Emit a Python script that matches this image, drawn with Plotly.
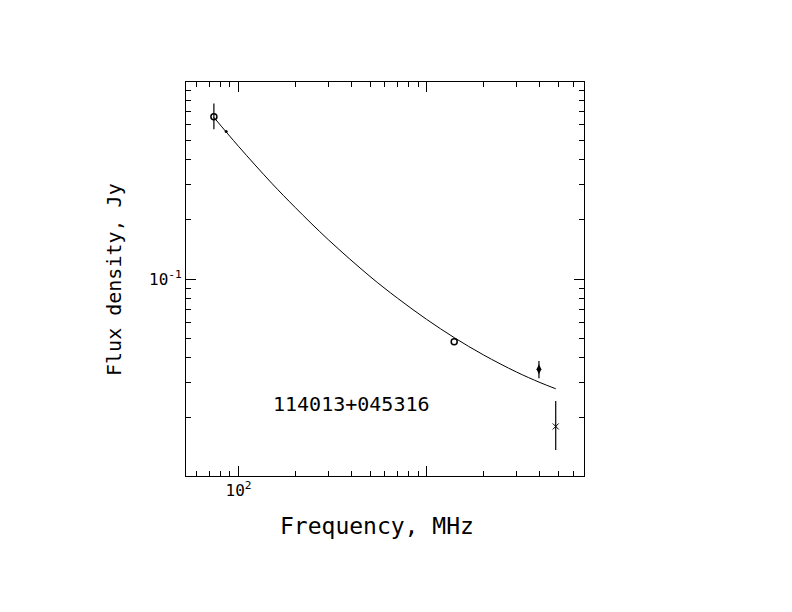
import plotly.graph_objects as go

# ---- data ----
# open-circle measurements
circ_freq = [74, 1400]
circ_flux = [0.66, 0.0482]
circ_err_plus = [0.11, 0.0]
circ_err_minus = [0.09, 0.0]

# small filled dot on the curve
dot_freq = [86]
dot_flux = [0.556]

# filled point near 4 GHz
fill_freq = [3950]
fill_flux = [0.035]
fill_err = [0.0035]

# cross point
cross_freq = [4850]
cross_flux = [0.018]
cross_err_plus = [0.0062]
cross_err_minus = [0.0043]

# fitted spectrum curve
fit_freq = [74, 100, 150, 200, 300, 500, 700, 1000, 1400, 2000, 3000, 4000, 4850]
fit_flux = [0.655, 0.468, 0.305, 0.230, 0.158, 0.103, 0.080, 0.0625, 0.0506,
            0.0414, 0.0339, 0.0300, 0.0279]

source_name = "114013+045316"
x_title = "Frequency, MHz"
y_title = "Flux density, Jy"

x_major_labeled = [100]
x_major_text = ["10<sup>2</sup>"]
x_major_unlabeled = [1000]
x_minor = [60, 70, 80, 90, 200, 300, 400, 500, 600, 700, 800, 900,
           2000, 3000, 4000, 5000, 6000]
y_major = [0.1]
y_major_text = ["10<sup>-1</sup>"]
y_minor = [0.02, 0.03, 0.04, 0.05, 0.06, 0.07, 0.08, 0.09,
           0.2, 0.3, 0.4, 0.5, 0.6, 0.7, 0.8, 0.9]

x_range = [1.721, 3.836]
y_range = [-1.995, -0.005]

FONT = "DejaVu Sans Mono"

fig = go.Figure()

fig.add_trace(go.Scatter(
    x=fit_freq, y=fit_flux, mode="lines",
    line=dict(color="black", width=1, shape="spline"),
    showlegend=False, hoverinfo="skip"))

fig.add_trace(go.Scatter(
    x=circ_freq, y=circ_flux, mode="markers",
    marker=dict(symbol="circle-open", size=6, color="black",
                line=dict(width=1.5, color="black")),
    error_y=dict(type="data", array=circ_err_plus, arrayminus=circ_err_minus,
                 symmetric=False, width=0, thickness=1.2, color="black"),
    showlegend=False))

fig.add_trace(go.Scatter(
    x=dot_freq, y=dot_flux, mode="markers",
    marker=dict(symbol="circle", size=3, color="black"),
    showlegend=False))

fig.add_trace(go.Scatter(
    x=fill_freq, y=fill_flux, mode="markers",
    marker=dict(symbol="diamond-tall", size=7, color="black"),
    error_y=dict(type="data", array=fill_err, width=0, thickness=1.2, color="black"),
    showlegend=False))

fig.add_trace(go.Scatter(
    x=cross_freq, y=cross_flux, mode="markers",
    marker=dict(symbol="x-thin", size=6, color="black",
                line=dict(width=1, color="black")),
    error_y=dict(type="data", array=cross_err_plus, arrayminus=cross_err_minus,
                 symmetric=False, width=0, thickness=1.2, color="black"),
    showlegend=False))

# tick-only overlay axes
fig.add_trace(go.Scatter(x=[None], y=[None], xaxis="x2", yaxis="y2",
                         showlegend=False, hoverinfo="skip"))
fig.add_trace(go.Scatter(x=[None], y=[None], xaxis="x3", yaxis="y2",
                         showlegend=False, hoverinfo="skip"))

common_axis = dict(type="log", showgrid=False, zeroline=False,
                   linecolor="black", linewidth=1, ticks="inside",
                   tickcolor="black", tickwidth=1)

fig.update_layout(
    width=792, height=612,
    margin=dict(l=178, r=216, t=74, b=144),
    paper_bgcolor="white", plot_bgcolor="white",
    font=dict(family=FONT, color="black"),
    xaxis=dict(**common_axis, range=x_range, tickvals=x_major_labeled,
               ticktext=x_major_text, ticklen=10, mirror="ticks",
               showline=True, tickfont=dict(size=16, family=FONT)),
    yaxis=dict(**common_axis, range=y_range, tickvals=y_major,
               ticktext=y_major_text, ticklen=10, mirror="ticks",
               showline=True, tickfont=dict(size=16, family=FONT)),
    xaxis2=dict(**common_axis, range=x_range, tickvals=x_minor, ticklen=5,
                overlaying="x", anchor="y2", side="bottom", mirror="ticks",
                showline=False, showticklabels=False),
    xaxis3=dict(**common_axis, range=x_range, tickvals=x_major_unlabeled,
                ticklen=10, overlaying="x", anchor="y2", side="bottom",
                mirror="ticks", showline=False, showticklabels=False),
    yaxis2=dict(**common_axis, range=y_range, tickvals=y_minor, ticklen=5,
                overlaying="y", anchor="x2", side="left", mirror="ticks",
                showline=False, showticklabels=False),
    annotations=[
        dict(text=source_name, xref="paper", yref="paper", x=0.4146, y=0.1827,
             showarrow=False, font=dict(size=20, family=FONT),
             xanchor="center", yanchor="middle"),
        dict(text=x_title, xref="paper", yref="paper", x=0.48, y=-0.127,
             showarrow=False, font=dict(size=23, family=FONT),
             xanchor="center", yanchor="middle"),
        dict(text=y_title, xref="paper", yref="paper", x=-0.181, y=0.5,
             showarrow=False, textangle=-90, font=dict(size=20, family=FONT),
             xanchor="center", yanchor="middle"),
    ],
)

fig.write_html("out.html")
